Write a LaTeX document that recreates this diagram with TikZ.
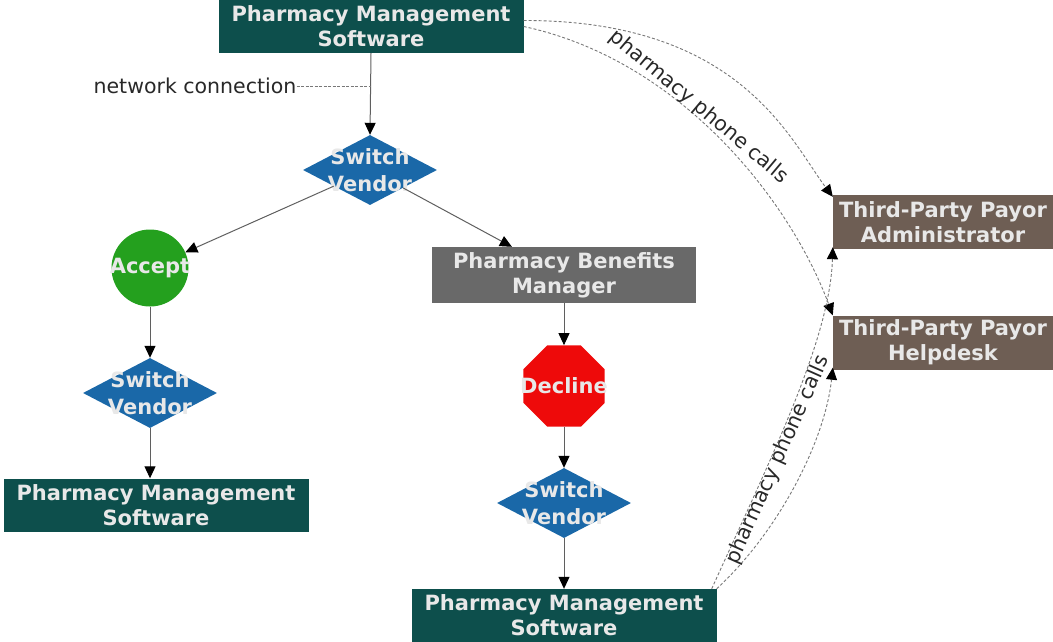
\documentclass[tikz,border=0pt]{standalone}
\usepackage{fontspec}
\setmainfont{DejaVu Sans}
\usetikzlibrary{arrows.meta,shapes.geometric,calc}
\definecolor{cteal}{RGB}{13,79,76}
\definecolor{cblue}{RGB}{26,104,168}
\definecolor{cgreen}{RGB}{36,160,30}
\definecolor{cred}{RGB}{238,10,10}
\definecolor{cgray}{RGB}{105,105,105}
\definecolor{cbrown}{RGB}{110,94,84}
\definecolor{txtc}{RGB}{232,232,232}
\definecolor{lblc}{RGB}{40,40,40}
\definecolor{linec}{RGB}{95,95,95}
\definecolor{dashc}{RGB}{120,120,120}
\begin{document}
\begin{tikzpicture}[x=1pt,y=-1pt,
  box/.style={rectangle, inner sep=0pt, text=txtc, align=center,
    font=\fontsize{21}{25}\selectfont\bfseries},
  pms/.style={box, fill=cteal, minimum width=305pt, minimum height=53pt},
  pbm/.style={box, fill=cgray, minimum width=264pt, minimum height=56pt},
  tpp/.style={box, fill=cbrown, minimum width=220pt, minimum height=54pt},
  svshape/.style={diamond, fill=cblue, inner sep=0pt, minimum width=134pt, minimum height=70pt},
  accshape/.style={circle, fill=cgreen, inner sep=0pt, minimum size=77pt},
  decshape/.style={regular polygon, regular polygon sides=8, fill=cred, inner sep=0pt, minimum size=88pt},
  ntext/.style={inner sep=0pt, text=txtc, align=center, font=\fontsize{21}{27}\selectfont\bfseries},
  lbl/.style={inner sep=0pt, text=lblc, font=\fontsize{20.5}{25}\selectfont},
  flow/.style={draw=linec, line width=1pt, -{Triangle[length=12pt,width=11pt,color=black]}},
  phone/.style={draw=dashc, line width=0.9pt, dash pattern=on 3pt off 2pt,
    -{Triangle[length=12pt,width=11pt,color=black]}}
]
\useasboundingbox (0,0) rectangle (1053,641);

% nodes
\node[pms] (pmsT) at (371,26.5) {Pharmacy Management\\Software};
\node[svshape] (sv1) at (370,170) {};
\node[ntext] (sv1t) at (sv1) {Switch\\Vendor};
\node[accshape] (acc) at (150,268) {};
\node[ntext] (acct) at (acc) {Accept};
\node[svshape] (sv2) at (150,393) {};
\node[ntext] (sv2t) at (sv2) {Switch\\Vendor};
\node[pms] (pmsL) at (156,505) {Pharmacy Management\\Software};
\node[pbm] (pbm) at (564,275) {Pharmacy Benefits\\Manager};
\node[decshape] (dec) at (564,386) {};
\node[ntext] (dect) at (dec) {Decline};
\node[svshape] (sv3) at (564,503) {};
\node[ntext] (sv3t) at (sv3) {Switch\\Vendor};
\node[pms] (pmsB) at (564,615.5) {Pharmacy Management\\Software};
\node[tpp] (tpa) at (943,222) {Third-Party Payor\\Administrator};
\node[tpp] (help) at (943,342.5) {Third-Party Payor\\Helpdesk};

% network connection label
\node[lbl] (nc) at (195,86) {network connection};
\coordinate (ncend) at (pmsT.south |- nc.east);

% solid connectors
\path[flow] (pmsT.south) -- (sv1.north);
\draw[dashc, line width=0.9pt, dash pattern=on 3pt off 1.5pt] (nc.east) -- (ncend);
\path[flow] (sv1) -- (acc);
\path[flow] (sv1) -- (pbm);
\path[flow] (acc) -- (sv2.north);
\path[flow] (sv2.south) -- (sv2.south |- pmsL.north);
\path[flow] (pbm) -- (dec);
\path[flow] (dec) -- (sv3.north);
\path[flow] (sv3.south) -- (pmsB.north);

% phone calls
\path[phone] ([yshift=6pt]pmsT.east) .. controls (740,20) and (790,140) .. ([yshift=-2pt]tpa.north west);
\path[phone] (pmsT.east) .. controls (680,60) and (790,200) .. (help.north west);
\path[phone] ([xshift=-5pt]pmsB.north east) .. controls (770,460) and (830,340) .. ([yshift=2pt]tpa.south west);
\path[phone] (pmsB.north east) .. controls (780,530) and (825,440) .. ([yshift=2pt]help.south west);

\node[lbl, rotate=-40] (pc1) at (699,107) {pharmacy phone calls};
\node[lbl, rotate=66] (pc2) at (778,460) {pharmacy phone calls};
\end{tikzpicture}
\end{document}
